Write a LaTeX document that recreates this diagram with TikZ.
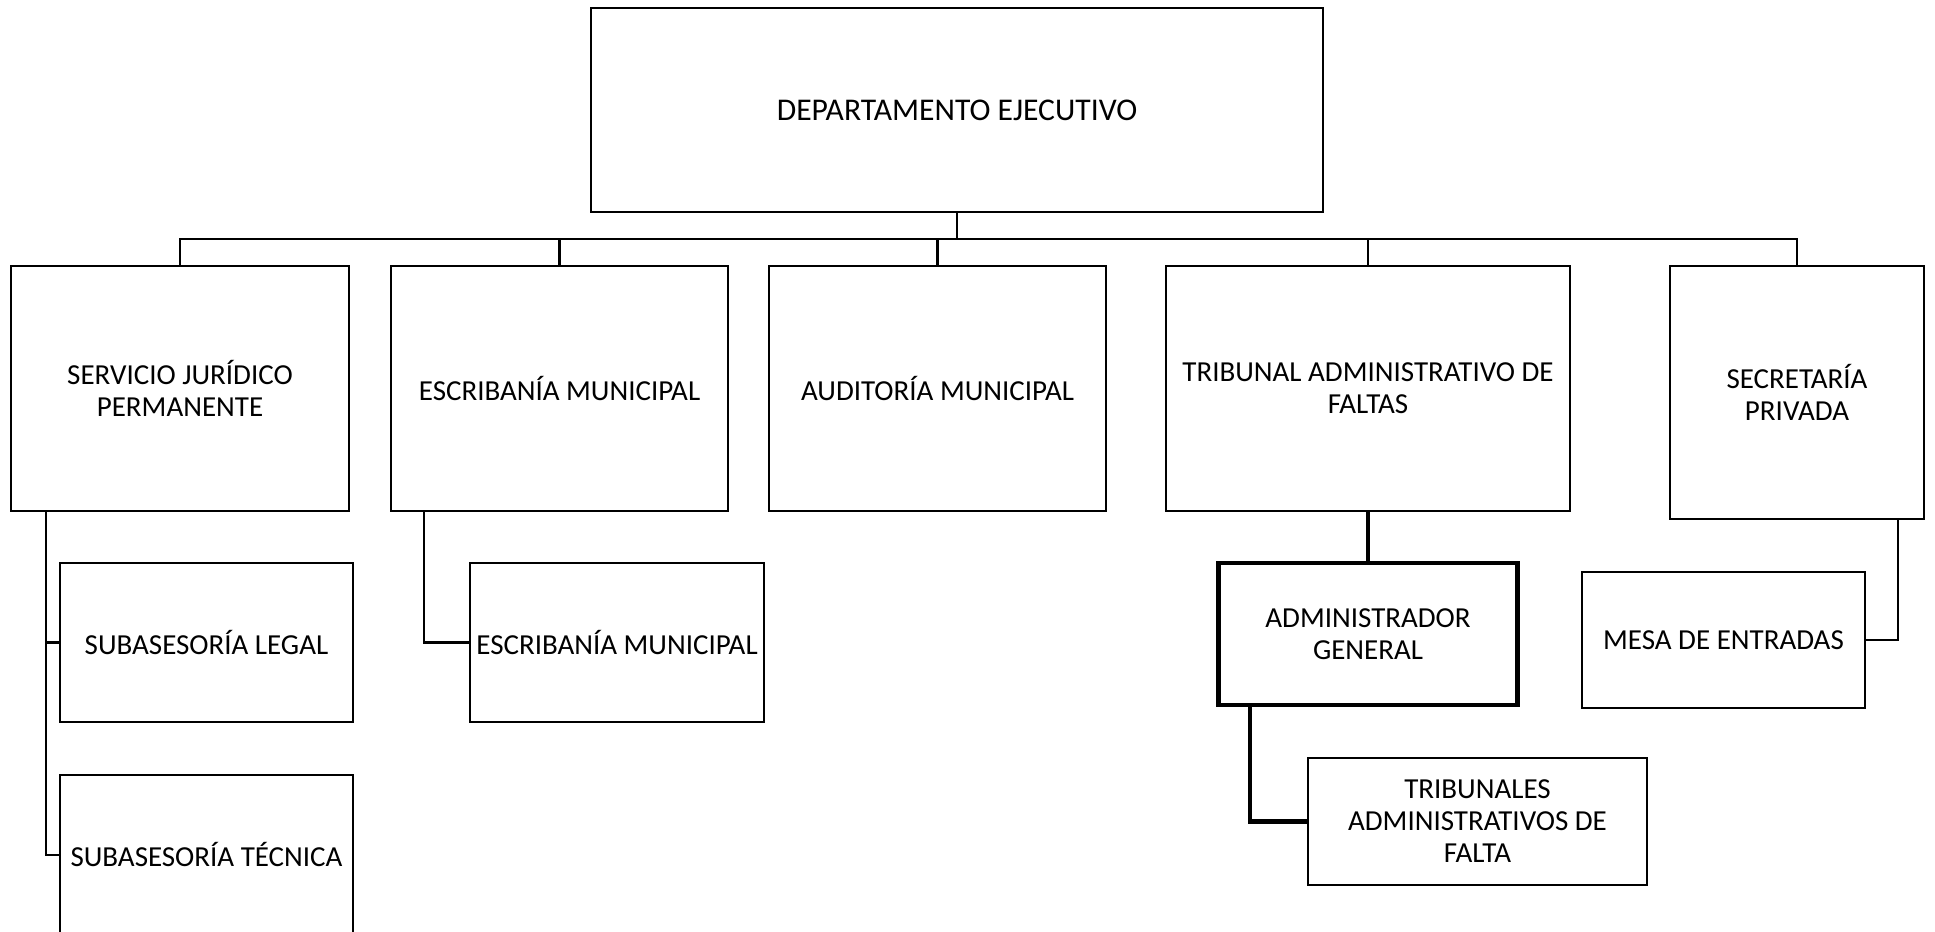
\documentclass[tikz,border=0pt]{standalone}
\usepackage{fontspec}
\setmainfont{Carlito}
\usetikzlibrary{positioning}
\begin{document}
\begin{tikzpicture}[x=0.02cm, y=-0.02cm, font=\fontsize{16.5}{18.2}\selectfont,
    box/.style={draw, line width=1.5pt, fill=white, align=center, inner sep=1pt},
    heavybox/.style={box, line width=2.7pt},
    link/.style={line width=1.6pt},
    heavylink/.style={line width=2.6pt}]
    \useasboundingbox (0,0) rectangle (1935,932);
    \clip (0,0) rectangle (1935,932);

    % top
    \node(dep) [box, font=\fontsize{18}{20}\selectfont, minimum width=14.64cm, minimum height=4.08cm] at (957,110) {DEPARTAMENTO EJECUTIVO};

    % level 1
    \node(sjp) [box, minimum width=6.76cm, minimum height=4.9cm] at (180,388.5) {SERVICIO JURÍDICO\\PERMANENTE};
    \node(esc) [box, minimum width=6.74cm, minimum height=4.9cm] at (559.5,388.5) {ESCRIBANÍA MUNICIPAL};
    \node(aud) [box, minimum width=6.74cm, minimum height=4.9cm] at (937.5,388.5) {AUDITORÍA MUNICIPAL};
    \node(taf) [box, minimum width=8.08cm, minimum height=4.9cm] at (1368,388.5) {TRIBUNAL ADMINISTRATIVO DE\\FALTAS};
    \node(sec) [box, minimum width=5.08cm, minimum height=5.06cm] at (1797,392.5) {SECRETARÍA\\PRIVADA};

    % level 2
    \node(sublegal) [box, minimum width=5.86cm, minimum height=3.18cm] at (206.5,642.5) {SUBASESORÍA LEGAL};
    \node(subtec)   [box, minimum width=5.86cm, minimum height=3.2cm]  at (206.5,855)   {SUBASESORÍA TÉCNICA};
    \node(escmun)   [box, minimum width=5.88cm, minimum height=3.18cm] at (617,642.5)   {ESCRIBANÍA MUNICIPAL};
    \node(adm)      [heavybox, minimum width=5.98cm, minimum height=2.84cm] at (1368,634) {ADMINISTRADOR\\GENERAL};
    \node(mesa)     [box, minimum width=5.66cm, minimum height=2.72cm]  at (1723.5,640)  {MESA DE ENTRADAS};

    % level 3
    \node(trib) [box, minimum width=6.78cm, minimum height=2.54cm] at (1477.5,821.5) {TRIBUNALES\\ADMINISTRATIVOS DE\\FALTA};

    %extra
    \coordinate(bus) at (957,239);
    \coordinate(sjpdown) at (46,511);
    \coordinate(escdown) at (424,511);
    \coordinate(admdown) at (1250,705);
    \coordinate(secdown) at (1898,519);

    %%%%% Edges %%%%%
    \draw[link] (dep.south) -- (bus);
    \draw[link] (sjp.north) |- (bus) -| (sec.north);
    \foreach \n in {esc,aud,taf}
        \draw[link] (\n.north) -- (\n.north |- bus);

    \draw[link] (sjpdown) |- (subtec.west);
    \draw[link] (sjpdown |- sublegal.west) -- (sublegal.west);
    \draw[link] (escdown) |- (escmun.west);

    \draw[heavylink] (taf.south) -- (adm.north);
    \draw[heavylink] (admdown) |- (trib.west);

    \draw[link] (secdown) |- (mesa.east);

\end{tikzpicture}
\end{document}
